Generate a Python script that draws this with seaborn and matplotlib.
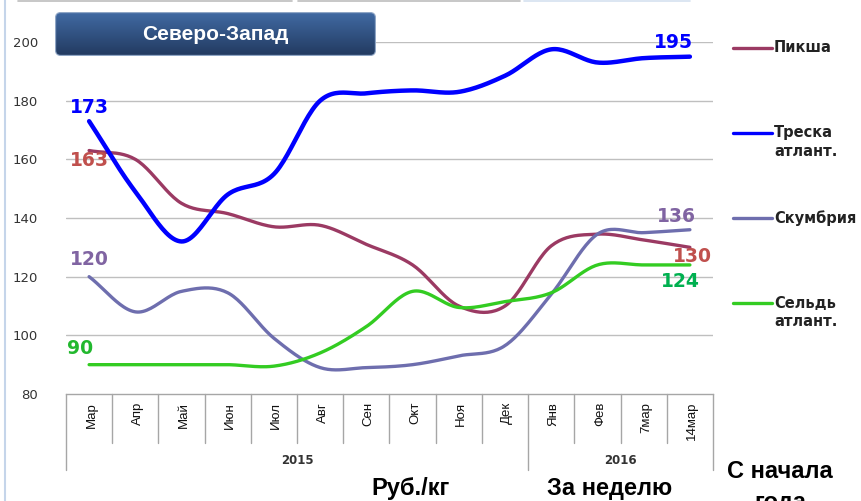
import numpy as np
import pandas as pd
import seaborn as sns
import matplotlib
matplotlib.use("Agg")
import matplotlib.pyplot as plt
from matplotlib.patches import FancyBboxPatch
from matplotlib.lines import Line2D
from matplotlib.colors import LinearSegmentedColormap
import matplotlib.transforms as mtransforms
from matplotlib import font_manager

# ---------------- data ----------------
categories = ["Мар", "Апр", "Май", "Июн", "Июл", "Авг", "Сен", "Окт", "Ноя", "Дек",
              "Янв", "Фев", "7мар", "14мар"]
years = ["2015", "2016"]
year_spans = [(0, 10), (10, 14)]

piksha = [163, 160, 145, 141.5, 137, 137.5, 131, 124, 110, 110, 130.5, 134.5, 132.5, 130]
treska = [173, 149, 132, 148, 155, 180, 182.5, 183.5, 183, 188.5, 197.5, 193, 194.5, 195]
skumbria = [120, 108, 115, 114.5, 99, 89, 89, 90, 93, 96.5, 114, 134.5, 135, 136]
seld = [90, 90, 90, 90, 89.5, 94, 103, 115, 109.5, 111.5, 114.5, 124, 124, 124]

series_names = ["Пикша", "Треска\nатлант.", "Скумбрия", "Сельдь\nатлант."]
series_values = [piksha, treska, skumbria, seld]
line_colors = ["#9B3A63", "#0000FF", "#6E6EAE", "#33CC22"]
line_widths = [2.4, 3.2, 2.4, 2.4]
label_colors = ["#C0504D", "#0000FF", "#8064A2", "#22B82E"]

y_ticks = [80, 100, 120, 140, 160, 180, 200]

W, H = 862, 501


def smooth(xv, yv, n=24):
    """Catmull-Rom smoothing (Excel-style smoothed line) for rendering."""
    xv = np.asarray(xv, float)
    yv = np.asarray(yv, float)
    P = np.column_stack([xv, yv])
    P = np.vstack([P[0] - (P[1] - P[0]), P, P[-1] + (P[-1] - P[-2])])
    out = []
    t = np.linspace(0, 1, n, endpoint=False)[:, None]
    for i in range(1, len(P) - 2):
        p0, p1, p2, p3 = P[i - 1], P[i], P[i + 1], P[i + 2]
        c = 0.5 * ((2 * p1) + (-p0 + p2) * t + (2 * p0 - 5 * p1 + 4 * p2 - p3) * t ** 2
                   + (-p0 + 3 * p1 - 3 * p2 + p3) * t ** 3)
        out.append(c)
    out.append(P[-2][None, :])
    c = np.vstack(out)
    return c[:, 0], c[:, 1]


sns.set_theme(style="white")
plt.rcParams["font.family"] = ["DejaVu Sans"]

names = {f.name for f in font_manager.fontManager.ttflist}
narrow = "Liberation Sans Narrow" if "Liberation Sans Narrow" in names else "Liberation Sans"

fig = plt.figure(figsize=(W / 100, H / 100), dpi=100)


def px(x0, y0, w, h):
    return [x0 / W, 1 - (y0 + h) / H, w / W, h / H]


def fy(ypx):
    return 1 - ypx / H


ax_left, ax_right, ax_top, ax_bot = 66, 713, 42, 394
ax = fig.add_axes(px(ax_left, ax_top, ax_right - ax_left, ax_bot - ax_top))

xpos = np.arange(len(categories))
for name, vals, col, lw in zip(series_names, series_values, line_colors, line_widths):
    sx, sy = smooth(xpos, vals)
    df = pd.DataFrame({"x": sx, "y": sy})
    sns.lineplot(data=df, x="x", y="y", color=col, linewidth=lw, ax=ax,
                 sort=False, estimator=None, zorder=3)

ax.set_xlim(-0.5, len(categories) - 0.5)
ax.set_ylim(80, 200)
ax.set_yticks(y_ticks)
ax.set_yticklabels([str(v) for v in y_ticks], fontsize=9.5, color="#333333")
ax.tick_params(axis="y", length=0, pad=20)
ax.set_xticks([])
ax.set_xlabel("")
ax.set_ylabel("")
for yv in y_ticks[1:]:
    ax.axhline(yv, color="#BFBFBF", linewidth=1.0, zorder=1)
for s in ["left", "right", "top"]:
    ax.spines[s].set_visible(False)
ax.spines["bottom"].set_color("#A6A6A6")
ax.spines["bottom"].set_linewidth(1.0)
ax.patch.set_alpha(0)

# category axis (multi-level) drawn below
trans = mtransforms.blended_transform_factory(ax.transData, fig.transFigure)
for k in range(len(categories) + 1):
    xb = k - 0.5
    long = k in (0, 10, 14)
    ax.plot([xb, xb], [fy(394), fy(470 if long else 443)], transform=trans,
            color="#A6A6A6", linewidth=1.0, clip_on=False)
for i, c in enumerate(categories):
    ax.text(i + 0.05, fy(402), c, transform=trans, rotation=90, ha="center", va="top",
            fontsize=9.5, family=narrow, color="#111111")
for yr, (a, b) in zip(years, year_spans):
    ax.text((a + b - 1) / 2, fy(461), yr, transform=trans, ha="center", va="center",
            fontsize=8.5, fontweight="bold", color="#333333")

# data labels
lab = dict(fontsize=13.5, fontweight="bold", ha="center", va="center")
ax.text(0.0, 173 + 4.8, "173", color=label_colors[1], **lab)
ax.text(0.0, 163 - 3.5, "163", color=label_colors[0], **lab)
ax.text(0.0, 120 + 6, "120", color=label_colors[2], **lab)
ax.text(-0.2, 90 + 5.5, "90", color=label_colors[3], **lab)
ax.text(13 - 0.35, 195 + 5, "195", color=label_colors[1], **lab)
ax.text(13 - 0.3, 136 + 4.5, "136", color=label_colors[2], **lab)
ax.text(13.05, 130 - 3, "130", color=label_colors[0], **lab)
ax.text(13 - 0.2, 124 - 5.5, "124", color="#00B050", **lab)

# legend (manual)
leg_rows = [(48, None), (133, 152), (218, None), (303, 322)]
for (y1, y2), name, col in zip(leg_rows, series_names, line_colors):
    fig.add_artist(Line2D([733 / W, 772 / W], [fy(y1), fy(y1)], color=col, linewidth=2.4))
    parts = name.split("\n")
    fig.text(774 / W, fy(y1), parts[0], ha="left", va="center", fontsize=10.5,
             fontweight="bold", color="#222222")
    if len(parts) > 1:
        fig.text(774 / W, fy(y2), parts[1], ha="left", va="center", fontsize=10.5,
                 fontweight="bold", color="#222222")

# title box with gradient
bx0, by0, bx1, by1 = 55, 12, 376, 56
bw, bh = bx1 - bx0, by1 - by0
tax = fig.add_axes(px(bx0, by0, bw, bh))
tax.set_xlim(0, bw)
tax.set_ylim(0, bh)
tax.axis("off")
grad = np.linspace(0, 1, 64)[:, None]
cmap = LinearSegmentedColormap.from_list("g", ["#416AA3", "#223A60"])
im = tax.imshow(grad, extent=[0, bw, 0, bh], aspect="auto", cmap=cmap, origin="upper")
box = FancyBboxPatch((0.6, 0.6), bw - 1.2, bh - 1.2, boxstyle="round,pad=0,rounding_size=5",
                     facecolor="none", edgecolor="#8FA6C6", linewidth=0.8)
tax.add_patch(box)
im.set_clip_path(box)
tax.text(bw / 2, bh / 2, "Северо-Запад", ha="center", va="center", color="white",
         fontsize=15, fontweight="bold", family="Liberation Sans")

# bottom captions
cap = dict(fontsize=17, fontweight="bold", family="Liberation Sans", color="black",
           ha="center", va="center")
fig.text(411 / W, fy(488), "Руб./кг", **cap)
fig.text(610 / W, fy(489), "За неделю", **cap)
fig.text(780 / W, fy(472), "С начала", **cap)
fig.text(780 / W, fy(503), "года", **cap)

# slide decorations
fig.add_artist(Line2D([5 / W, 5 / W], [0, 1], color="#C5D5EA", linewidth=1.5))
fig.add_artist(Line2D([18 / W, 292 / W], [fy(0.5), fy(0.5)], color="#BDBDBD", linewidth=1.2))
fig.add_artist(Line2D([298 / W, 520 / W], [fy(0.5), fy(0.5)], color="#BDBDBD", linewidth=1.2))
fig.add_artist(Line2D([524 / W, 690 / W], [fy(0.5), fy(0.5)], color="#D6E2F0", linewidth=1.2))

fig.savefig("out.png", dpi=100)
